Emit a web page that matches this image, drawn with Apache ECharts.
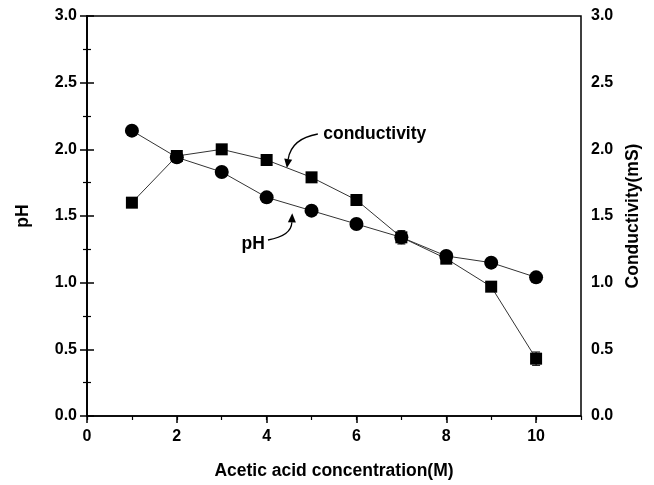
<!DOCTYPE html>
<html>
<head>
<meta charset="utf-8">
<script src="https://cdn.jsdelivr.net/npm/echarts@6/dist/echarts.min.js"></script>
</head>
<body style="margin:0;background:#fff">
<div id="main" style="width:654px;height:485px"></div>
<script>
// acetic acid concentration (M)
const concentration = [1, 2, 3, 4, 5, 6, 7, 8, 9, 10];
const phValues = [2.14, 1.94, 1.83, 1.64, 1.54, 1.44, 1.34, 1.20, 1.15, 1.04];
const conductivity = [1.60, 1.95, 2.00, 1.92, 1.79, 1.62, 1.34, 1.18, 0.97, 0.43];
const conductivityErr = [0, 0, 0, 0, 0, 0, 0.05, 0, 0, 0.05];

const FONT = '"Liberation Sans", Arial, sans-serif';
const labelStyle = { fontFamily: FONT, fontWeight: 'bold', fontSize: 16, color: '#000' };
const nameStyle = { fontFamily: FONT, fontWeight: 'bold', fontSize: 17.5, color: '#000' };

const chart = echarts.init(document.getElementById('main'));

function yAxisOpt(pos, name, gap) {
    return {
        type: 'value', position: pos, min: 0, max: 3, interval: 0.5,
        name: name, nameLocation: 'middle', nameGap: gap, nameRotate: 90,
        nameTextStyle: nameStyle,
        axisLine: { show: true, lineStyle: { color: '#000', width: 1.5 } },
        axisTick: { show: true, length: 7, lineStyle: { color: '#000', width: 1.5 } },
        minorTick: { show: true, splitNumber: 2, length: 4, lineStyle: { color: '#000', width: 1.2 } },
        axisLabel: Object.assign({ margin: 10, formatter: v => v.toFixed(1) }, labelStyle),
        splitLine: { show: false }
    };
}

chart.setOption({
    animation: false,
    grid: { left: 87, right: 73, top: 16, bottom: 69, show: true, borderColor: '#000', borderWidth: 1.5 },
    xAxis: [{
        type: 'value', min: 0, max: 11, interval: 2,
        name: 'Acetic acid concentration(M)', nameLocation: 'middle', nameGap: 46,
        nameTextStyle: Object.assign({ verticalAlign: 'top' }, nameStyle),
        axisLine: { lineStyle: { color: '#000', width: 1.5 } },
        axisTick: { length: 7, lineStyle: { color: '#000', width: 1.5 } },
        axisLabel: Object.assign({ margin: 13, showMaxLabel: false }, labelStyle),
        splitLine: { show: false }
    }, {
        type: 'value', position: 'bottom', min: 0, max: 11, interval: 1,
        axisLine: { show: false },
        axisTick: { length: 4, lineStyle: { color: '#000', width: 1.2 } },
        axisLabel: { show: false },
        splitLine: { show: false }
    }],
    yAxis: [yAxisOpt('left', 'pH', 55), yAxisOpt('right', 'Conductivity(mS)', 41)],
    series: [{
        name: 'conductivity', type: 'line', yAxisIndex: 1,
        data: concentration.map((c, i) => [c, conductivity[i]]),
        symbol: 'rect', symbolSize: 12,
        itemStyle: { color: '#000' },
        lineStyle: { color: '#333', width: 1 },
        z: 3
    }, {
        name: 'pH', type: 'line', yAxisIndex: 0,
        data: concentration.map((c, i) => [c, phValues[i]]),
        symbol: 'circle', symbolSize: 14,
        itemStyle: { color: '#000' },
        lineStyle: { color: '#333', width: 1 },
        z: 3
    }, {
        name: 'err', type: 'custom', yAxisIndex: 1,
        data: concentration.map((c, i) => [c, conductivity[i] - conductivityErr[i], conductivity[i] + conductivityErr[i]])
            .filter((d, i) => conductivityErr[i] > 0),
        renderItem: function (params, api) {
            const lo = api.coord([api.value(0), api.value(1)]);
            const hi = api.coord([api.value(0), api.value(2)]);
            const w = 4;
            const st = { stroke: '#000', lineWidth: 1 };
            return {
                type: 'group', children: [
                    { type: 'line', shape: { x1: lo[0], y1: lo[1], x2: hi[0], y2: hi[1] }, style: st },
                    { type: 'line', shape: { x1: lo[0] - w, y1: lo[1], x2: lo[0] + w, y2: lo[1] }, style: st },
                    { type: 'line', shape: { x1: hi[0] - w, y1: hi[1], x2: hi[0] + w, y2: hi[1] }, style: st }
                ]
            };
        },
        z: 2
    }]
});

// annotation arrows, anchored in data coordinates
function px(p) { return chart.convertToPixel({ xAxisIndex: 0, yAxisIndex: 0 }, p); }
function arrow(start, ctrl, tip) {
    const s = px(start), c = px(ctrl), t = px(tip);
    const ang = Math.atan2(t[1] - c[1], t[0] - c[0]);
    const L = 9, W = 4;
    const bx = t[0] - L * Math.cos(ang), by = t[1] - L * Math.sin(ang);
    const nx = -Math.sin(ang) * W, ny = Math.cos(ang) * W;
    return [{
        type: 'bezierCurve',
        shape: { x1: s[0], y1: s[1], cpx1: c[0], cpy1: c[1], x2: bx, y2: by },
        style: { stroke: '#000', lineWidth: 1.3, fill: null }
    }, {
        type: 'polygon',
        shape: { points: [t, [bx + nx, by + ny], [bx - nx, by - ny]] },
        style: { fill: '#000' }
    }];
}
const condText = px([5.26, 2.11]);
const phText = px([3.7, 1.29]);
chart.setOption({
    graphic: [].concat(
        arrow([5.14, 2.115], [4.55, 2.08], [4.45, 1.86]),
        arrow([4.03, 1.32], [4.55, 1.35], [4.57, 1.52]),
        [{
            type: 'text', x: condText[0], y: condText[1],
            style: { text: 'conductivity', font: 'bold 17.5px ' + FONT, fill: '#000', textVerticalAlign: 'middle' }
        }, {
            type: 'text', x: phText[0], y: phText[1],
            style: { text: 'pH', font: 'bold 17.5px ' + FONT, fill: '#000', textAlign: 'center', textVerticalAlign: 'middle' }
        }]
    )
});
</script>
</body>
</html>
